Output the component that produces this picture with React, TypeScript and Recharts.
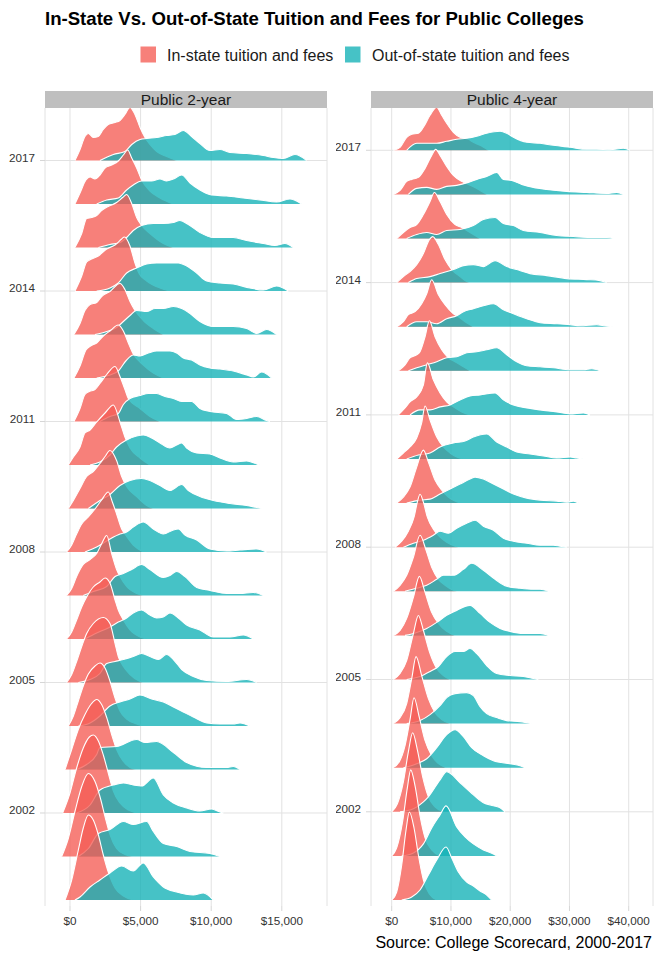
import React from 'react';
import { ComposedChart, Area, XAxis, YAxis, CartesianGrid, ReferenceLine } from 'recharts';

type Curve = [number, number][];

const years = [2000, 2001, 2002, 2003, 2004, 2005, 2006, 2007, 2008, 2009, 2010, 2011, 2012, 2013, 2014, 2015, 2016, 2017];
const yearTicks = [2002, 2005, 2008, 2011, 2014, 2017];
const twoYearXTicks = [0, 5000, 10000, 15000];
const fourYearXTicks = [0, 10000, 20000, 30000, 40000];
const seriesNames = ['In-state tuition and fees', 'Out-of-state tuition and fees'];
const panelNames = ['Public 2-year', 'Public 4-year'];

// [tuition ($), relative density] per year, 2000 -> 2017
const twoYearInState: Curve[] = [
  [[-350,0],[120,20],[590,50],[940,72],[1300,85],[1650,80],[2010,65],[2360,45],[2710,28],[3190,12],[3780,4],[4480,0]],
  [[-590,0],[-120,18],[350,45],[830,70],[1300,83],[1770,75],[2120,60],[2480,40],[2830,22],[3300,8],[3890,2],[4480,0]],
  [[-520,0],[0,20],[470,45],[940,65],[1370,76],[1650,78],[2010,72],[2360,58],[2710,40],[3070,22],[3540,10],[4130,3],[4720,0]],
  [[-350,0],[120,20],[590,40],[1060,55],[1530,66],[1890,70],[2240,65],[2600,52],[2950,35],[3300,20],[3780,8],[4250,2],[4720,0]],
  [[-120,0],[240,10],[590,25],[940,40],[1300,52],[1770,60],[2120,63],[2480,58],[2830,45],[3190,28],[3540,15],[4010,7],[4720,2],[5190,0]],
  [[-240,0],[120,8],[470,21],[830,36],[1180,49],[1650,59],[2360,65],[2830,59],[3190,39],[3420,26],[3780,16],[4250,8],[4960,1],[5190,0]],
  [[-240,0],[120,7],[470,19],[830,32],[1180,42],[1650,52],[2120,57],[2480,61],[2830,56],[3190,39],[3420,29],[3780,19],[4250,9],[4960,2],[5430,0]],
  [[-240,0],[120,7],[470,19],[940,31],[1420,36],[1890,42],[2250,52],[2600,60],[2950,42],[3300,26],[3540,19],[4010,9],[4720,2],[5190,0]],
  [[-240,0],[120,7],[470,18],[830,28],[1300,35],[1770,43],[2240,52],[2710,60],[3000,50],[3300,38],[3660,23],[3890,18],[4480,7],[5190,0]],
  [[-120,0],[240,8],[710,20],[1180,32],[1650,37],[2120,45],[2480,52],[2830,58],[3300,48],[3660,32],[4010,22],[4720,12],[5430,3],[5900,0]],
  [[-120,0],[240,8],[710,18],[1060,32],[1420,35],[1890,43],[2480,52],[3070,60],[3540,43],[3890,28],[4250,17],[4960,7],[5660,0]],
  [[280,0],[710,13],[1060,27],[1370,30],[1770,32],[2120,38],[2600,47],[3190,55],[3540,45],[3890,32],[4130,23],[4960,13],[5660,5],[6370,0]],
  [[280,0],[710,12],[1130,28],[1460,32],[1890,35],[2360,42],[2830,47],[3420,53],[3780,47],[4130,35],[4440,25],[5190,13],[5900,5],[6610,0]],
  [[280,0],[710,11],[1060,24],[1420,30],[1890,32],[2240,38],[2830,43],[3540,51],[3890,45],[4250,33],[4600,24],[5190,14],[5900,6],[6610,0]],
  [[350,0],[830,15],[1180,29],[1530,32],[2010,35],[2600,42],[3190,46],[3660,52],[3850,54],[4250,45],[4600,28],[4910,17],[5430,10],[6370,3],[7080,0]],
  [[350,0],[830,14],[1180,29],[1530,30],[1890,32],[2240,37],[2710,41],[3300,45],[3730,50],[4010,53],[4370,44],[4720,30],[5070,22],[5660,14],[6610,4],[7320,0]],
  [[350,0],[710,11],[1130,24],[1420,27],[1770,25],[2120,29],[2480,36],[2950,39],[3420,43],[3780,49],[4080,54],[4370,46],[4720,36],[5070,24],[5660,13],[6370,6],[7320,0]],
  [[350,0],[710,11],[1060,24],[1300,27],[1650,23],[2000,24],[2360,31],[2710,36],[3190,38],[3540,40],[3890,46],[4250,53],[4600,46],[4960,33],[5310,23],[5660,16],[6140,9],[6840,4],[7550,0]],
];

const twoYearOutState: Curve[] = [
  [[350,0],[710,3],[1420,13],[2120,20],[2830,27],[3660,34],[4480,29],[5190,37],[5900,23],[6610,13],[7550,8],[8730,5],[9440,7],[10150,0]],
  [[590,0],[1300,8],[2010,23],[2830,27],[3780,35],[4480,32],[5430,35],[5900,25],[6610,13],[7550,10],[8500,5],[9910,3],[10620,0]],
  [[470,0],[1420,8],[2120,23],[3070,28],[3780,30],[4480,28],[5070,27],[5900,35],[6610,18],[7320,10],[8260,5],[9200,2],[10030,4],[10620,1],[10860,0]],
  [[470,0],[1180,5],[1890,15],[2120,22],[3300,23],[4720,30],[5310,27],[6140,28],[7320,17],[8260,7],[9680,2],[11090,2],[11560,3],[12040,0]],
  [[590,0],[1420,3],[2120,10],[2830,20],[3540,24],[4250,27],[4960,31],[5780,27],[6610,24],[7320,19],[8020,14],[8730,9],[9680,3],[10620,2],[11560,2],[12040,3],[12740,0]],
  [[590,0],[1420,3],[2120,9],[2600,19],[3190,21],[3780,23],[4480,26],[5070,29],[5660,26],[6250,23],[6840,28],[7320,23],[7910,13],[8730,6],[9680,2],[11090,1],[12510,3],[13220,0]],
  [[1060,0],[1890,6],[2710,11],[3420,17],[4010,21],[4480,26],[5070,29],[5660,24],[6140,21],[6610,22],[7080,26],[7670,21],[8260,14],[9200,9],[10150,2],[11330,2],[12270,4],[12980,0]],
  [[940,0],[1650,4],[2600,9],[3190,19],[3780,22],[4370,26],[5070,31],[5660,26],[6610,18],[7080,20],[7550,24],[8140,19],[8970,8],[9910,5],[11090,2],[12040,2],[12980,3],[13690,0]],
  [[1060,0],[1890,5],[2830,13],[3540,18],[4010,20],[4480,25],[5190,30],[5900,23],[6610,18],[7320,22],[7670,23],[8140,17],[8970,12],[9910,3],[11090,1],[12040,2],[13220,3],[13920,0]],
  [[1300,0],[2120,8],[2830,14],[3540,23],[4250,28],[5070,30],[5660,28],[6370,23],[7080,18],[7910,24],[8380,18],[9200,12],[10150,8],[11330,5],[12510,3],[13220,1],[13570,0]],
  [[1420,0],[2120,3],[2830,10],[3300,18],[4010,25],[4720,29],[5190,30],[5780,27],[6370,22],[7080,17],[7550,20],[7910,22],[8260,17],[8970,12],[9910,11],[10620,7],[11560,3],[12510,4],[13220,1],[13450,0]],
  [[2120,0],[2830,5],[3420,8],[3780,17],[4250,23],[4960,26],[5550,28],[6140,28],[6730,25],[7320,23],[7910,20],[8610,20],[9200,13],[9910,10],[11090,8],[11800,2],[12510,3],[13220,5],[13920,1],[14160,0]],
  [[1890,0],[2830,3],[3420,7],[4010,18],[4480,23],[4960,22],[5550,25],[6140,27],[7080,27],[7550,25],[8020,20],[8610,18],[9200,13],[9910,10],[10620,9],[11560,7],[12510,3],[12980,1],[13570,6],[14280,0]],
  [[1770,0],[2600,3],[3300,7],[3780,13],[4250,19],[4720,24],[5430,23],[6020,26],[6610,26],[7320,28],[7910,26],[8500,21],[9200,13],[10150,8],[11560,8],[12510,6],[13220,1],[13920,5],[14630,0]],
  [[1890,0],[2830,3],[3420,8],[4010,18],[4720,23],[5430,27],[6140,28],[6840,28],[7670,28],[8260,25],[8970,18],[9680,10],[10620,8],[11560,7],[12740,3],[13690,1],[14630,5],[15460,0]],
  [[2010,0],[2830,3],[3540,5],[4010,10],[4480,17],[5070,22],[5900,24],[6610,24],[7320,25],[7790,27],[8380,23],[9200,15],[10150,10],[11560,10],[12510,7],[13690,4],[14510,2],[15220,4],[15810,0]],
  [[1890,0],[2600,4],[3420,6],[4010,14],[4480,19],[5070,23],[5780,23],[6370,25],[6840,23],[7320,25],[7910,29],[8500,21],[9200,14],[10030,9],[11090,8],[12270,6],[13450,4],[14630,2],[15580,5],[16400,0]],
  [[2120,0],[3070,6],[3890,9],[4370,16],[4960,21],[5430,22],[6140,23],[6840,25],[7430,26],[8020,30],[8610,24],[9200,17],[9910,10],[10620,11],[11330,8],[12510,7],[13690,5],[14400,3],[15100,2],[15930,6],[16760,0]],
];

const fourYearInState: Curve[] = [
  [[0,0],[840,8],[1690,35],[2420,70],[2980,88],[3770,72],[4500,45],[5350,20],[6360,6],[7600,0]],
  [[0,0],[840,8],[1860,35],[2640,68],[3210,86],[3940,70],[4780,40],[5630,18],[6750,6],[8160,0]],
  [[0,0],[960,8],[1970,30],[2810,60],[3540,79],[4330,62],[5230,35],[6190,15],[7310,5],[8720,0]],
  [[170,0],[1290,6],[2250,22],[3090,48],[3770,70],[4670,50],[5630,27],[6750,12],[7880,4],[9280,0]],
  [[280,0],[1410,6],[2530,20],[3380,45],[4110,67],[5060,48],[6190,25],[7310,11],[8440,4],[9850,0]],
  [[280,0],[1410,6],[2530,19],[3660,46],[4500,64],[5350,49],[6470,26],[7600,11],[8720,4],[9850,0]],
  [[280,0],[1410,5],[2530,17],[3660,38],[4670,59],[5630,43],[6750,23],[7880,12],[9280,4],[10690,0]],
  [[280,0],[1410,6],[2530,16],[3660,34],[4780,56],[5800,41],[6750,24],[7880,12],[9000,6],[10410,1],[10970,0]],
  [[560,0],[1690,6],[2810,16],[3770,30],[4330,45],[4780,53],[5350,45],[6020,30],[7030,18],[8160,10],[9280,5],[10690,1],[11250,0]],
  [[840,0],[1970,6],[3090,16],[4220,36],[5350,53],[6190,41],[7310,23],[8440,13],[9560,6],[10690,2],[11530,0]],
  [[840,0],[1970,6],[3090,12],[4220,21],[5060,36],[5630,53],[6470,39],[7600,22],[8720,12],[9850,6],[10970,2],[12100,0]],
  [[1130,0],[2250,7],[3090,13],[4220,18],[5350,30],[6020,52],[7030,35],[8160,22],[9280,13],[10410,8],[11820,3],[13220,0]],
  [[1130,0],[2250,6],[3090,13],[4220,16],[4780,19],[5630,34],[6360,50],[7310,34],[8440,21],[9560,13],[10690,9],[11820,5],[13220,0]],
  [[840,0],[1970,5],[2810,12],[3940,15],[5060,23],[5910,33],[6750,47],[7880,32],[9000,22],[10410,13],[11250,10],[12380,5],[13780,0]],
  [[840,0],[1970,6],[3090,11],[4220,18],[5350,29],[6360,43],[6920,46],[7880,38],[9000,23],[10130,13],[11530,6],[12660,1],[13220,0]],
  [[840,0],[1970,6],[3090,11],[4220,14],[5350,24],[6470,37],[7200,46],[8160,37],[9280,24],[10690,14],[11820,11],[13220,6],[14910,0]],
  [[280,0],[1410,4],[2530,13],[3380,15],[4500,17],[5630,26],[6750,39],[7430,45],[8160,39],[9280,28],[10410,19],[11820,13],[12940,10],[14350,6],[16030,0]],
  [[280,0],[1410,3],[2530,13],[3380,16],[4500,17],[5350,23],[6470,35],[7600,43],[8440,35],[9280,27],[10410,18],[11530,13],[12940,11],[13780,8],[14910,5],[16320,0]],
];

const fourYearOutState: Curve[] = [
  [[1690,0],[3380,3],[4780,10],[6190,25],[7600,40],[9170,53],[10130,42],[11250,28],[12660,18],[13780,14],[14910,9],[16030,5],[16880,0]],
  [[1690,0],[3660,3],[5350,12],[6750,28],[8160,41],[9170,50],[10970,29],[12380,19],[13780,12],[15470,6],[17160,2],[17720,0]],
  [[1410,0],[3660,3],[5350,10],[6190,15],[8160,32],[9280,40],[11530,29],[13220,20],[15470,9],[17160,6],[18290,4],[19130,0]],
  [[1970,0],[4220,4],[5910,9],[7600,20],[9280,33],[10690,38],[12100,31],[13500,20],[15470,12],[17160,7],[19970,4],[21660,2],[22500,0]],
  [[2530,0],[4780,3],[6470,9],[8160,18],[9280,26],[10690,30],[12660,31],[13780,28],[14910,17],[16030,10],[17720,6],[19410,3],[21660,2],[23630,0]],
  [[2530,0],[4780,3],[6470,8],[7880,13],[9280,23],[10690,28],[12100,28],[13220,31],[14350,26],[16030,14],[17720,6],[19970,4],[22220,3],[23910,1],[24750,0]],
  [[2250,0],[4220,3],[5910,7],[7600,13],[9280,20],[10970,25],[12380,29],[13220,30],[14910,22],[16600,13],[18290,7],[19970,4],[22220,2],[25040,2],[26440,0]],
  [[2250,0],[4220,3],[5910,6],[7600,12],[8720,16],[10410,16],[12100,22],[13500,28],[15470,21],[17440,12],[19410,5],[21660,3],[23910,2],[25040,2],[26440,0]],
  [[1970,0],[3660,4],[5350,7],[7030,12],[8160,16],[9560,14],[10970,19],[12660,24],[14070,27],[15470,21],[17160,17],[18850,9],[20540,6],[22790,4],[25040,2],[27290,2],[28410,1],[29540,0]],
  [[2530,0],[4780,3],[6470,4],[8160,9],[9850,14],[11530,19],[13220,24],[14070,26],[15470,24],[17160,19],[18850,14],[20540,9],[22790,5],[25040,3],[27850,2],[29540,1],[30660,2],[31510,0]],
  [[2530,0],[4500,4],[6470,6],[8160,12],[10410,16],[12380,18],[13780,22],[16030,25],[17720,17],[19410,12],[21100,7],[23350,5],[25600,3],[27850,1],[30100,2],[31220,1],[32350,0]],
  [[3090,0],[4780,5],[6470,5],[8160,8],[9850,10],[11530,15],[13220,19],[14910,20],[17440,22],[18850,15],[20540,10],[22790,7],[25040,5],[27850,3],[30100,1],[32350,2],[33470,0]],
  [[2810,0],[4220,3],[5910,6],[7600,9],[9280,13],[10970,14],[12660,18],[14350,19],[16030,21],[17720,23],[19410,16],[21100,9],[22790,5],[25040,4],[27290,3],[30100,1],[32350,1],[33760,2],[35160,0]],
  [[2530,0],[4220,5],[5910,5],[7600,3],[9280,8],[10970,11],[12100,15],[13780,18],[15470,21],[17160,23],[18850,17],[20540,13],[22790,8],[25040,4],[27850,3],[30100,2],[31790,1],[34600,2],[35730,1],[37410,0]],
  [[2810,0],[4220,4],[6470,6],[8160,9],[10410,13],[12100,17],[13780,18],[15470,16],[17440,22],[19410,16],[21100,13],[23350,9],[26160,7],[29540,4],[32910,3],[35160,2],[36290,0]],
  [[2530,0],[4220,4],[5910,6],[7600,4],[9280,8],[11530,9],[13780,13],[15470,19],[17440,21],[18850,15],[20540,13],[22220,8],[25040,6],[27850,3],[30660,2],[34040,1],[36290,1],[37410,0]],
  [[2810,0],[4220,6],[5910,7],[7600,5],[9280,8],[10970,9],[12940,12],[14350,15],[16030,18],[17720,22],[18850,15],[20250,14],[21940,10],[23910,7],[26160,5],[29540,3],[32910,2],[36290,1],[37980,2],[39100,0]],
  [[2530,0],[4220,7],[5910,7],[7600,7],[9280,9],[10970,11],[12660,12],[14350,14],[16030,17],[18290,19],[19410,17],[20540,13],[22790,8],[25040,7],[27290,5],[30100,3],[32910,1],[34600,1],[36850,0.5],[39100,2],[40230,0]],
];

const RED = 'rgb(245,92,85)';
const TEAL = 'rgb(18,177,182)';
const ALPHA = 0.78;
const FONT = '"Liberation Sans", Arial, Helvetica, sans-serif';
const GRID = '#e2e2e2';
const TEXT = '#333333';

const fmtDollar = (v: number) => (v === 0 ? '$0' : '$' + v.toLocaleString('en-US'));

const toPoints = (curve: Curve, row: number, densityPerRow: number) =>
  curve.map(([x, h]) => ({ x, y: row + h / densityPerRow }));

const YearTick = (props: any) => {
  const { x, y, payload } = props;
  return (
    <text x={x} y={y - 3} dy="0.355em" textAnchor="end" fontSize={11.7} fill={TEXT} fontFamily={FONT}>
      {String(2000 + payload.value)}
    </text>
  );
};

type PanelProps = {
  inState: Curve[];
  outState: Curve[];
  xDomain: [number, number];
  yDomain: [number, number];
  xTicks: number[];
  densityPerRow: number;
  left: number;
  marginLeft: number;
  marginRight: number;
  yAxisWidth: number;
};

function Panel({ inState, outState, xDomain, yDomain, xTicks, densityPerRow, left, marginLeft, marginRight, yAxisWidth }: PanelProps) {
  const rows = years.map((_, i) => i).reverse();
  const tickRows = yearTicks.map((y) => y - 2000);
  // horizontal grid at labelled years, only where no ridge outline lies on it
  const gridSegments = tickRows.flatMap((r) => {
    const lo = Math.min(inState[r][0][0], outState[r][0][0]);
    const hi = Math.max(inState[r][inState[r].length - 1][0], outState[r][outState[r].length - 1][0]);
    return [
      { key: `gl-${r}`, seg: [{ x: xDomain[0], y: r }, { x: lo, y: r }] },
      { key: `gr-${r}`, seg: [{ x: hi, y: r }, { x: xDomain[1], y: r }] },
    ];
  });
  return (
    <div style={{ position: 'absolute', left, top: 0 }}>
      <ComposedChart width={336} height={960} margin={{ top: 108, right: marginRight, bottom: 24, left: marginLeft }}>
        <CartesianGrid stroke={GRID} strokeWidth={1} horizontal={false} />
        <XAxis
          dataKey="x"
          type="number"
          domain={xDomain}
          allowDataOverflow
          ticks={xTicks}
          interval={0}
          tickFormatter={fmtDollar}
          height={30}
          tickSize={5}
          tickMargin={6}
          axisLine={false}
          tickLine={{ stroke: '#d6d6d6' }}
          tick={{ fontSize: 11.7, fill: TEXT, fontFamily: FONT }}
        />
        <YAxis
          type="number"
          domain={yDomain}
          allowDataOverflow
          ticks={tickRows}
          interval={0}
          width={yAxisWidth}
          tickSize={5}
          tickMargin={5}
          axisLine={false}
          tickLine={{ stroke: '#d6d6d6' }}
          tick={<YearTick />}
        />
        {gridSegments.map((g) => (
          <ReferenceLine key={g.key} segment={g.seg} stroke={GRID} strokeWidth={1} ifOverflow="hidden" />
        ))}
        {rows.flatMap((i) => [
          <Area
            key={`in-${i}`}
            data={toPoints(inState[i], i, densityPerRow)}
            dataKey="y"
            baseValue={i}
            type="monotone"
            fill={RED}
            fillOpacity={ALPHA}
            stroke="#ffffff"
            strokeWidth={1.1}
            dot={false}
            activeDot={false}
            isAnimationActive={false}
          />,
          <Area
            key={`out-${i}`}
            data={toPoints(outState[i], i, densityPerRow)}
            dataKey="y"
            baseValue={i}
            type="monotone"
            fill={TEAL}
            fillOpacity={ALPHA}
            stroke="#ffffff"
            strokeWidth={1.1}
            dot={false}
            activeDot={false}
            isAnimationActive={false}
          />,
        ])}
      </ComposedChart>
    </div>
  );
}

export default function App() {
  return (
    <div style={{ position: 'absolute', left: 0, top: 0, width: 672, height: 960, background: '#fff', fontFamily: FONT }}>
      <Panel
        inState={twoYearInState}
        outState={twoYearOutState}
        xDomain={[-1770, 18200]}
        yDomain={[-0.138, 18.207]}
        xTicks={twoYearXTicks}
        densityPerRow={43.5}
        left={0}
        marginLeft={5}
        marginRight={9}
        yAxisWidth={40}
      />
      <Panel
        inState={fourYearInState}
        outState={fourYearOutState}
        xDomain={[-3494, 44100]}
        yDomain={[-0.136, 17.959]}
        xTicks={fourYearXTicks}
        densityPerRow={44.1}
        left={336}
        marginLeft={5}
        marginRight={19}
        yAxisWidth={30}
      />
      <svg width={672} height={960} style={{ position: 'absolute', left: 0, top: 0, pointerEvents: 'none' }}>
        <text x={45} y={25} fontSize={18.6} fontWeight="bold" fill="#000" fontFamily={FONT}>
          In-State Vs. Out-of-State Tuition and Fees for Public Colleges
        </text>
        <rect x={140.5} y={46.5} width={15.5} height={16} fill={RED} fillOpacity={ALPHA} />
        <text x={167} y={60.5} fontSize={16} fill="#1a1a1a" fontFamily={FONT}>{seriesNames[0]}</text>
        <rect x={345} y={46.5} width={15.5} height={16} fill={TEAL} fillOpacity={ALPHA} />
        <text x={372} y={60.5} fontSize={16} fill="#1a1a1a" fontFamily={FONT}>{seriesNames[1]}</text>
        <rect x={45} y={91} width={282} height={17} fill="#bfbfbf" />
        <text x={186} y={105} fontSize={15.5} textAnchor="middle" fill="#1a1a1a" fontFamily={FONT}>{panelNames[0]}</text>
        <rect x={371} y={91} width={282} height={17} fill="#bfbfbf" />
        <text x={512} y={105} fontSize={15.5} textAnchor="middle" fill="#1a1a1a" fontFamily={FONT}>{panelNames[1]}</text>
        <text x={652} y={948} fontSize={16} textAnchor="end" fill="#000" fontFamily={FONT}>
          Source: College Scorecard, 2000-2017
        </text>
      </svg>
    </div>
  );
}
